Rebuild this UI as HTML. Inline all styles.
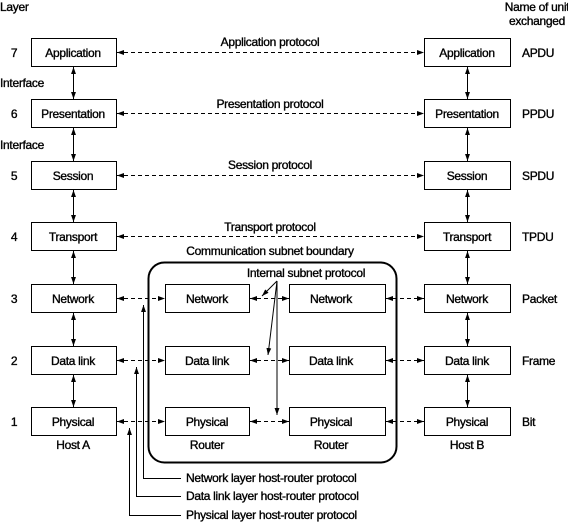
<!DOCTYPE html>
<html><head><meta charset="utf-8"><style>
html,body{margin:0;padding:0;background:#fff}
svg{display:block}
text{font-family:"Liberation Sans",Arial,sans-serif;font-size:12px;fill:#000;stroke:#000;stroke-width:0.35;letter-spacing:-0.3px}
</style></head><body>
<svg width="568" height="522" viewBox="0 0 568 522" xmlns="http://www.w3.org/2000/svg">
<defs>
<marker id="a" viewBox="0 0 10 10" refX="10" refY="5" markerWidth="7" markerHeight="7" orient="auto-start-reverse" markerUnits="userSpaceOnUse"><path d="M0,1.5 L10,5 L0,8.5 z" fill="#000"/></marker>
</defs>
<g stroke="#000" fill="none" stroke-width="1">
<rect x="31.5" y="38.5" width="85" height="28"/>
<rect x="31.5" y="99.5" width="85" height="28"/>
<rect x="31.5" y="161.5" width="85" height="28"/>
<rect x="31.5" y="222.5" width="85" height="28"/>
<rect x="31.5" y="284.5" width="85" height="28"/>
<rect x="31.5" y="346.5" width="85" height="28"/>
<rect x="31.5" y="407.5" width="85" height="28"/>
<rect x="424.5" y="38.5" width="86" height="28"/>
<rect x="424.5" y="99.5" width="86" height="28"/>
<rect x="424.5" y="161.5" width="86" height="28"/>
<rect x="424.5" y="222.5" width="86" height="28"/>
<rect x="424.5" y="284.5" width="86" height="28"/>
<rect x="424.5" y="346.5" width="86" height="28"/>
<rect x="424.5" y="407.5" width="86" height="28"/>
<rect x="165.5" y="284.5" width="84" height="28"/>
<rect x="165.5" y="346.5" width="84" height="28"/>
<rect x="165.5" y="407.5" width="84" height="28"/>
<rect x="289.5" y="284.5" width="96" height="28"/>
<rect x="289.5" y="346.5" width="96" height="28"/>
<rect x="289.5" y="407.5" width="96" height="28"/>
<rect x="148.5" y="262.5" width="248" height="200" rx="16" stroke-width="2"/>
<g marker-start="url(#a)" marker-end="url(#a)">
<line x1="73.5" y1="67" x2="73.5" y2="99"/>
<line x1="73.5" y1="128" x2="73.5" y2="161"/>
<line x1="73.5" y1="190" x2="73.5" y2="222"/>
<line x1="73.5" y1="251" x2="73.5" y2="284"/>
<line x1="73.5" y1="313" x2="73.5" y2="346"/>
<line x1="73.5" y1="375" x2="73.5" y2="407"/>
<line x1="467.5" y1="67" x2="467.5" y2="99"/>
<line x1="467.5" y1="128" x2="467.5" y2="161"/>
<line x1="467.5" y1="190" x2="467.5" y2="222"/>
<line x1="467.5" y1="251" x2="467.5" y2="284"/>
<line x1="467.5" y1="313" x2="467.5" y2="346"/>
<line x1="467.5" y1="375" x2="467.5" y2="407"/>
</g>
<g stroke-dasharray="4,3" marker-start="url(#a)" marker-end="url(#a)">
<line x1="117" y1="52.5" x2="424" y2="52.5"/>
<line x1="117" y1="113.5" x2="424" y2="113.5"/>
<line x1="117" y1="175.5" x2="424" y2="175.5"/>
<line x1="117" y1="236.5" x2="424" y2="236.5"/>
<line x1="117" y1="298.5" x2="165" y2="298.5"/>
<line x1="117" y1="360.5" x2="165" y2="360.5"/>
<line x1="117" y1="421.5" x2="165" y2="421.5"/>
<line x1="250" y1="298.5" x2="289" y2="298.5"/>
<line x1="250" y1="360.5" x2="289" y2="360.5"/>
<line x1="250" y1="421.5" x2="289" y2="421.5"/>
<line x1="386" y1="298.5" x2="424" y2="298.5"/>
<line x1="386" y1="360.5" x2="424" y2="360.5"/>
<line x1="386" y1="421.5" x2="424" y2="421.5"/>
</g>
<g marker-end="url(#a)">
<line x1="277" y1="281" x2="262" y2="296"/>
<line x1="277" y1="281" x2="268" y2="355"/>
<line x1="277" y1="281" x2="277" y2="415"/>
</g>
<g marker-end="url(#a)">
<polyline points="181,478.5 143.5,478.5 143.5,305"/>
<polyline points="181,496.5 136.5,496.5 136.5,367"/>
<polyline points="181,515.5 129.5,515.5 129.5,428"/>
</g>
</g>
<g>
<text x="0" y="11">Layer</text>
<text x="537" y="11" text-anchor="middle">Name of unit</text>
<text x="537" y="25" text-anchor="middle">exchanged</text>
<text x="0" y="87">Interface</text>
<text x="0" y="149">Interface</text>
<g text-anchor="middle">
<text x="14" y="57">7</text><text x="14" y="118">6</text><text x="14" y="180">5</text><text x="14" y="241">4</text><text x="14" y="303">3</text><text x="14" y="365">2</text><text x="14" y="426">1</text>
<text x="73" y="57">Application</text><text x="73" y="118">Presentation</text><text x="73" y="180">Session</text><text x="73" y="241">Transport</text><text x="73" y="303">Network</text><text x="73" y="365">Data link</text><text x="73" y="426">Physical</text>
<text x="467" y="57">Application</text><text x="467" y="118">Presentation</text><text x="467" y="180">Session</text><text x="467" y="241">Transport</text><text x="467" y="303">Network</text><text x="467" y="365">Data link</text><text x="467" y="426">Physical</text>
<text x="207" y="303">Network</text><text x="207" y="365">Data link</text><text x="207" y="426">Physical</text>
<text x="331" y="303">Network</text><text x="331" y="365">Data link</text><text x="331" y="426">Physical</text>
<text x="73" y="449">Host A</text><text x="467" y="449">Host B</text>
<text x="207" y="449">Router</text><text x="331" y="449">Router</text>
<text x="270" y="46">Application protocol</text>
<text x="270" y="108">Presentation protocol</text>
<text x="270" y="169">Session protocol</text>
<text x="270" y="231">Transport protocol</text>
<text x="270" y="255">Communication subnet boundary</text>
<text x="306" y="277">Internal subnet protocol</text>
</g>
<text x="522" y="57">APDU</text><text x="522" y="118">PPDU</text><text x="522" y="180">SPDU</text><text x="522" y="241">TPDU</text><text x="522" y="303">Packet</text><text x="522" y="365">Frame</text><text x="522" y="426">Bit</text>
<text x="186" y="482">Network layer host-router protocol</text>
<text x="186" y="500">Data link layer host-router protocol</text>
<text x="186" y="519">Physical layer host-router protocol</text>
</g>
</svg>
</body></html>
